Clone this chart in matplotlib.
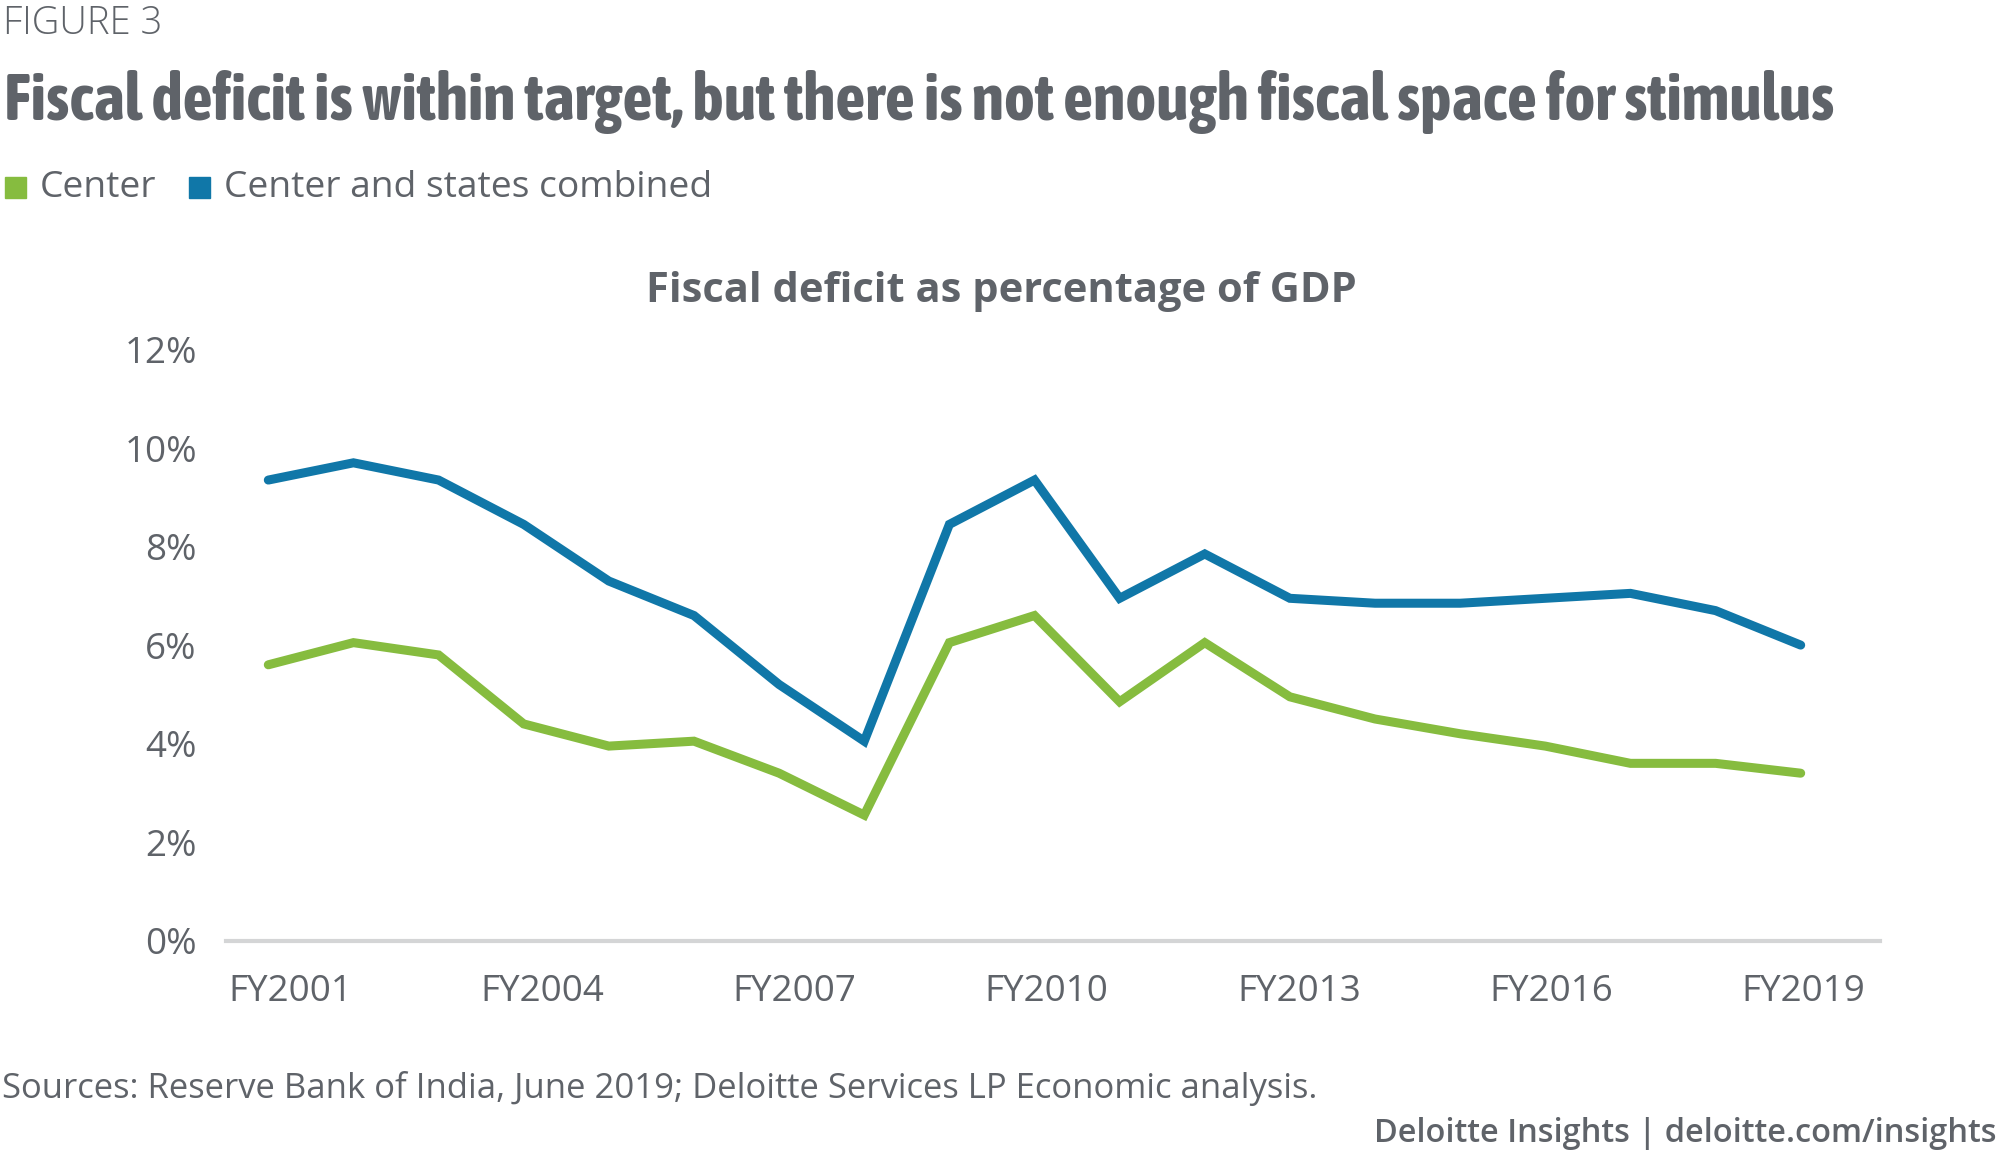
import matplotlib
matplotlib.use("Agg")
import matplotlib.pyplot as plt
from matplotlib.patches import Rectangle
from matplotlib.font_manager import fontManager, FontProperties

years = list(range(2001, 2020))
center = [5.6, 6.05, 5.8, 4.4, 3.95, 4.05, 3.4, 2.55, 6.05, 6.6, 4.85, 6.05, 4.95, 4.5, 4.2, 3.95, 3.6, 3.6, 3.4]
combined = [9.35, 9.7, 9.35, 8.45, 7.3, 6.6, 5.2, 4.05, 8.45, 9.35, 6.95, 7.85, 6.95, 6.85, 6.85, 6.95, 7.05, 6.7, 6.0]
xtick_years = [2001, 2004, 2007, 2010, 2013, 2016, 2019]
xtick_labels = ["FY2001", "FY2004", "FY2007", "FY2010", "FY2013", "FY2016", "FY2019"]
yticks = [0, 2, 4, 6, 8, 10, 12]
ytick_labels = ["0%", "2%", "4%", "6%", "8%", "10%", "12%"]

GREEN = "#86bc3f"
BLUE = "#1077a8"
GRAY = "#5f6369"

plt.rcParams['font.family'] = ['Open Sans', 'DejaVu Sans']


def find_title_font():
    files = [f.fname for f in fontManager.ttflist]
    for f in files:
        base = f.split('/')[-1].lower()
        if 'opensans' in base.replace('_', '').replace('-', '') and 'condensed' in base and base.endswith('bold.ttf') \
                and 'semi' not in base and 'extra' not in base and 'italic' not in base:
            return FontProperties(fname=f)
    for f in files:
        base = f.split('/')[-1]
        if base == 'AsapCondensed-Bold.ttf':
            return FontProperties(fname=f)
    return FontProperties(family='Open Sans', weight='bold')


W, H = 2000, 1162
fig = plt.figure(figsize=(20, 11.62), dpi=100)

ax = fig.add_axes([226 / W, 1 - 940.7 / H, (1880 - 226) / W, (940.7 - 349.5) / H])
ax.plot(years, center, color=GREEN, lw=6.5, solid_capstyle='round', solid_joinstyle='miter', zorder=3)
ax.plot(years, combined, color=BLUE, lw=6.5, solid_capstyle='round', solid_joinstyle='miter', zorder=3)
ax.set_xlim(2001 - 42.3 / 85.13, 2019 + 79.3 / 85.13)
ax.set_ylim(0, 12)
for s in ['top', 'right', 'left']:
    ax.spines[s].set_visible(False)
ax.spines['bottom'].set_color('#d4d5d6')
ax.spines['bottom'].set_linewidth(3)
ax.set_yticks(yticks)
ax.set_yticklabels(ytick_labels)
ax.set_xticks([])
ax.tick_params(axis='both', length=0, labelsize=26.5, labelcolor=GRAY)
ax.tick_params(axis='y', pad=21)

# category-label axis (labels sit on a slightly different spacing than the data points)
axl = ax.twiny()
axl.set_xlim(2001 - 64 / 84.08, 2019 + 76.5 / 84.08)
axl.xaxis.set_ticks_position('bottom')
axl.xaxis.set_label_position('bottom')
axl.set_xticks(xtick_years)
axl.set_xticklabels(xtick_labels)
axl.tick_params(axis='x', length=0, labelsize=26.5, labelcolor=GRAY, pad=24)
for s in axl.spines.values():
    s.set_visible(False)

fig.text(3 / W, 1 - 24 / H, "FIGURE 3", fontsize=27.5, color=GRAY, fontweight='light', va='center', ha='left')
tprop = find_title_font()
title = fig.text(4 / W, 1 - 102 / H, "Fiscal deficit is within target, but there is not enough fiscal space for stimulus",
                 fontproperties=tprop, fontsize=44, color=GRAY, va='center', ha='left')
fig.canvas.draw()
r = fig.canvas.get_renderer()
w = title.get_window_extent(r).width
title.set_fontsize(44 * 1833 / w)

# legend
fig.patches.append(Rectangle((5 / W, 1 - 198 / H), 21 / W, 21 / H, transform=fig.transFigure, color=GREEN))
fig.text(40 / W, 1 - 188 / H, "Center", fontsize=26.7, color=GRAY, va='center', ha='left')
fig.patches.append(Rectangle((189 / W, 1 - 198 / H), 21 / W, 21 / H, transform=fig.transFigure, color=BLUE))
fig.text(224 / W, 1 - 188 / H, "Center and states combined", fontsize=26.7, color=GRAY, va='center', ha='left')

fig.text(1001 / W, 1 - 292 / H, "Fiscal deficit as percentage of GDP", fontsize=30, color=GRAY,
         fontweight='bold', va='center', ha='center')

fig.text(2 / W, 1 - 1088 / H, "Sources: Reserve Bank of India, June 2019; Deloitte Services LP Economic analysis.",
         fontsize=24.9, color=GRAY, va='center', ha='left')
fig.text(1996 / W, 1 - 1133 / H, "Deloitte Insights | deloitte.com/insights", fontsize=23.4, color=GRAY,
         fontweight='semibold', va='center', ha='right')

fig.savefig("out.png", dpi=100)
